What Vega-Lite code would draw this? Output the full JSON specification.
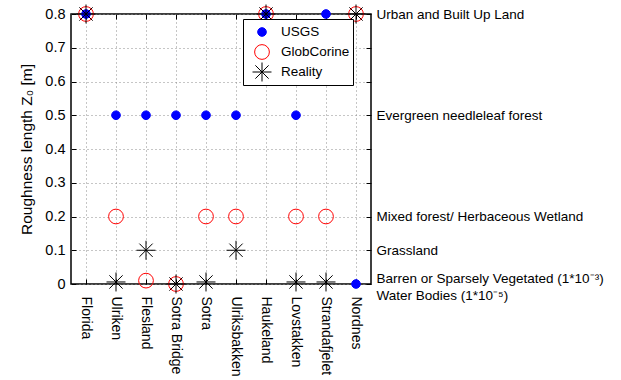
{
  "$schema": "https://vega.github.io/schema/vega-lite/v6.json",
  "width": 300,
  "height": 270,
  "autosize": {"type": "none"},
  "padding": {"left": 71, "top": 14, "right": 250, "bottom": 96},
  "background": "white",
  "data": {
    "values": [
      {"site": "Florida", "source": "USGS", "z": 0.8},
      {"site": "Florida", "source": "GlobCorine", "z": 0.8},
      {"site": "Florida", "source": "Reality", "z": 0.8},
      {"site": "Ulriken", "source": "USGS", "z": 0.5},
      {"site": "Ulriken", "source": "GlobCorine", "z": 0.2},
      {"site": "Ulriken", "source": "Reality", "z": 0.006},
      {"site": "Flesland", "source": "USGS", "z": 0.5},
      {"site": "Flesland", "source": "GlobCorine", "z": 0.01},
      {"site": "Flesland", "source": "Reality", "z": 0.1},
      {"site": "Sotra Bridge", "source": "USGS", "z": 0.5},
      {"site": "Sotra Bridge", "source": "GlobCorine", "z": 0},
      {"site": "Sotra Bridge", "source": "Reality", "z": 0},
      {"site": "Sotra", "source": "USGS", "z": 0.5},
      {"site": "Sotra", "source": "GlobCorine", "z": 0.2},
      {"site": "Sotra", "source": "Reality", "z": 0.006},
      {"site": "Ulriksbakken", "source": "USGS", "z": 0.5},
      {"site": "Ulriksbakken", "source": "GlobCorine", "z": 0.2},
      {"site": "Ulriksbakken", "source": "Reality", "z": 0.1},
      {"site": "Haukeland", "source": "USGS", "z": 0.8},
      {"site": "Haukeland", "source": "GlobCorine", "z": 0.8},
      {"site": "Haukeland", "source": "Reality", "z": 0.8},
      {"site": "Lovstakken", "source": "USGS", "z": 0.5},
      {"site": "Lovstakken", "source": "GlobCorine", "z": 0.2},
      {"site": "Lovstakken", "source": "Reality", "z": 0.006},
      {"site": "Strandafjelet", "source": "USGS", "z": 0.8},
      {"site": "Strandafjelet", "source": "GlobCorine", "z": 0.2},
      {"site": "Strandafjelet", "source": "Reality", "z": 0.006},
      {"site": "Nordnes", "source": "USGS", "z": 0},
      {"site": "Nordnes", "source": "GlobCorine", "z": 0.8},
      {"site": "Nordnes", "source": "Reality", "z": 0.8}
    ]
  },
  "encoding": {
    "x": {"field": "site", "type": "nominal", "sort": null, "scale": {"type": "point", "padding": 0.5}},
    "y": {"field": "z", "type": "quantitative", "scale": {"domain": [0, 0.8], "nice": false, "zero": true}},
    "fill": {
      "field": "source", "type": "nominal",
      "scale": {"domain": ["USGS", "GlobCorine", "Reality"], "range": ["#0000ff", "transparent", "transparent"]},
      "legend": {"title": null, "labelFontSize": 13.5, "labelFont": "Liberation Sans", "orient": "none", "legendX": 172, "legendY": 5, "padding": 3, "clipHeight": 20, "symbolOffset": 6, "labelOffset": 9, "rowPadding": -1.4, "strokeColor": "#000000", "fillColor": "#ffffff", "symbolStrokeWidth": 1, "labelColor": "#000000"}
    },
    "stroke": {
      "field": "source", "type": "nominal",
      "scale": {"domain": ["USGS", "GlobCorine", "Reality"], "range": ["#0000ff", "#ff0000", "#000000"]},
      "legend": {"title": null, "labelFontSize": 13.5, "labelFont": "Liberation Sans", "orient": "none", "legendX": 172, "legendY": 5, "padding": 3, "clipHeight": 20, "symbolOffset": 6, "labelOffset": 9, "rowPadding": -1.4, "strokeColor": "#000000", "fillColor": "#ffffff", "symbolStrokeWidth": 1, "labelColor": "#000000"}
    },
    "shape": {
      "field": "source", "type": "nominal",
      "scale": {"domain": ["USGS", "GlobCorine", "Reality"], "range": ["circle", "circle", "M-1,0L1,0M0,-1L0,1M-0.7,-0.7L0.7,0.7M-0.7,0.7L0.7,-0.7"]},
      "legend": {"title": null, "labelFontSize": 13.5, "labelFont": "Liberation Sans", "orient": "none", "legendX": 172, "legendY": 5, "padding": 3, "clipHeight": 20, "symbolOffset": 6, "labelOffset": 9, "rowPadding": -1.4, "strokeColor": "#000000", "fillColor": "#ffffff", "symbolStrokeWidth": 1, "labelColor": "#000000"}
    },
    "size": {
      "field": "source", "type": "nominal",
      "scale": {"domain": ["USGS", "GlobCorine", "Reality"], "range": [75, 360, 400]},
      "legend": {"title": null, "labelFontSize": 13.5, "labelFont": "Liberation Sans", "orient": "none", "legendX": 172, "legendY": 5, "padding": 3, "clipHeight": 20, "symbolOffset": 6, "labelOffset": 9, "rowPadding": -1.4, "strokeColor": "#000000", "fillColor": "#ffffff", "symbolStrokeWidth": 1, "labelColor": "#000000"}
    }
  },
  "layer": [
    {
      "transform": [{"filter": "datum.source == 'USGS'"}],
      "mark": {"type": "point", "opacity": 1, "strokeWidth": 1},
      "encoding": {
        "x": {
          "field": "site", "type": "nominal", "sort": null, "scale": {"type": "point", "padding": 0.5},
          "axis": {"orient": "bottom", "title": null, "grid": true, "tickSize": -5, "labelAngle": 90, "labelAlign": "left", "labelBaseline": "middle", "labelPadding": 17, "labelOffset": -1, "labelFontSize": 14, "labelFont": "Liberation Sans", "labelColor": "#000000"}
        },
        "y": {
          "field": "z", "type": "quantitative", "scale": {"domain": [0, 0.8], "nice": false, "zero": true},
          "axis": {"orient": "left", "title": "Roughness length Z₀ [m]", "values": [0, 0.1, 0.2, 0.3, 0.4, 0.5, 0.6, 0.7, 0.8], "format": "~g", "grid": true, "tickSize": -5, "labelPadding": 11, "titlePadding": 10, "labelFontSize": 14.5, "labelFont": "Liberation Sans", "labelColor": "#000000", "titleFontSize": 15.5, "titleFont": "Liberation Sans", "titleFontWeight": "normal", "titleColor": "#000000"}
        }
      }
    },
    {
      "transform": [{"filter": "datum.source == 'GlobCorine'"}],
      "mark": {"type": "point", "opacity": 1, "strokeWidth": 1},
      "encoding": {
        "x": {
          "field": "site", "type": "nominal", "sort": null, "scale": {"type": "point", "padding": 0.5},
          "axis": {"orient": "top", "title": null, "grid": false, "labels": false, "tickSize": -5}
        },
        "y": {
          "field": "z", "type": "quantitative", "scale": {"domain": [0, 0.8], "nice": false, "zero": true},
          "axis": {
            "orient": "right", "title": null, "grid": false, "tickSize": -5, "labelPadding": 10,
            "values": [0, 0.1, 0.2, 0.3, 0.4, 0.5, 0.6, 0.7, 0.8],
            "labelLineHeight": 17,
            "labelLimit": 400,
            "labelFontSize": 13.5,
            "labelFont": "Liberation Sans",
            "labelColor": "#000000",
            "labelOffset": {"condition": {"test": "datum.value == 0", "value": -6}, "value": 0},
            "labelExpr": "datum.value == 0.8 ? 'Urban and Built Up Land' : datum.value == 0.5 ? 'Evergreen needleleaf forest' : datum.value == 0.2 ? 'Mixed forest/ Herbaceous Wetland' : datum.value == 0.1 ? 'Grassland' : datum.value == 0 ? ['Barren or Sparsely Vegetated (1*10⁻³)', 'Water Bodies (1*10⁻⁵)'] : ''"
          }
        }
      }
    },
    {
      "transform": [{"filter": "datum.source == 'Reality'"}],
      "mark": {"type": "point", "opacity": 1, "strokeWidth": 1},
      "encoding": {
        "x": {"field": "site", "type": "nominal", "sort": null, "scale": {"type": "point", "padding": 0.5}, "axis": null},
        "y": {"field": "z", "type": "quantitative", "scale": {"domain": [0, 0.8], "nice": false, "zero": true}, "axis": null}
      }
    }
  ],
  "resolve": {"axis": {"x": "independent", "y": "independent"}},
  "config": {
    "view": {"stroke": "#000000", "strokeWidth": 1.5},
    "font": "Liberation Sans",
    "axis": {
      "domain": false,
      "labelColor": "#000000",
      "labelOverlap": false,
      "tickColor": "#000000",
      "tickWidth": 1,
      "gridColor": "#8c8c8c",
      "gridDash": [1, 3],
      "gridWidth": 1
    },
    "legend": {
      "cornerRadius": 0
    }
  }
}
